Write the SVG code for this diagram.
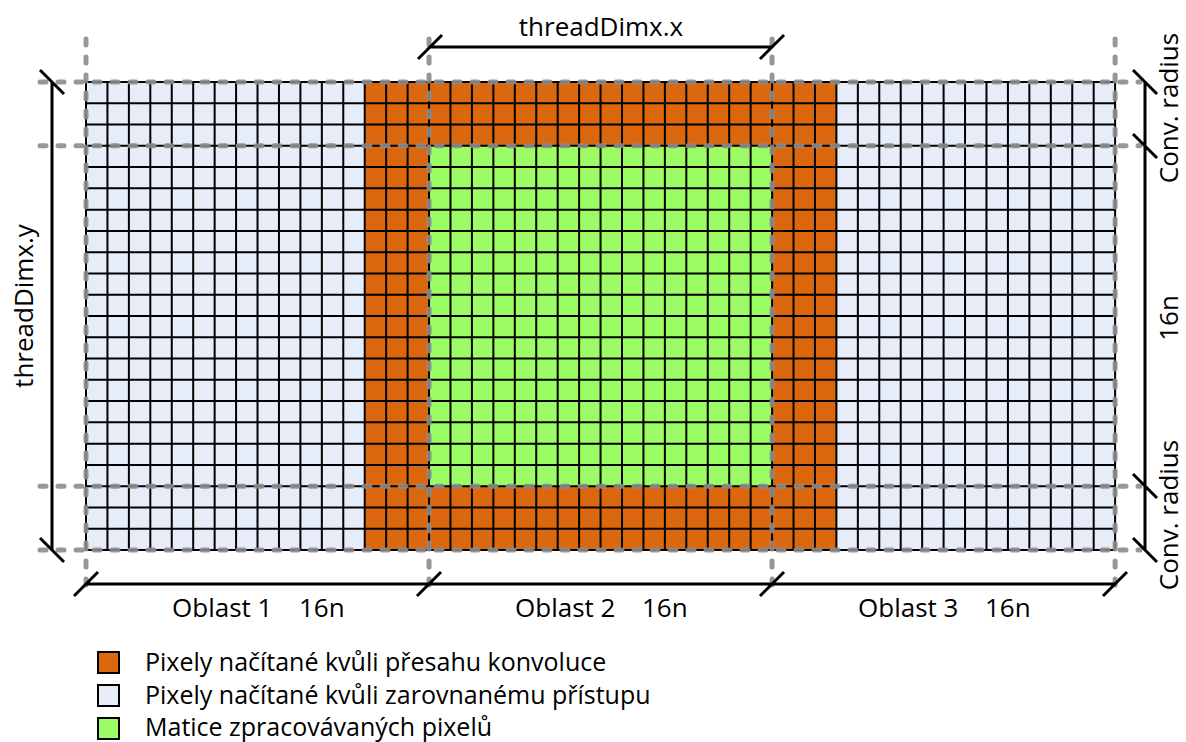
<svg xmlns="http://www.w3.org/2000/svg" width="1186" height="742" viewBox="0 0 1186 742">
  <style>
    .lbl { font-family: "Open Sans", "Liberation Sans", sans-serif; font-size: 26px; fill: #000; }
    .leg { font-family: "Open Sans", "Liberation Sans", sans-serif; font-size: 25px; fill: #000; }
    .grid { fill: none; stroke: #000; stroke-width: 2; }
    .guide { fill: none; stroke: #8c8c8c; stroke-width: 5; stroke-dasharray: 6 12; stroke-linecap: round; opacity: 0.9; }
    .dim { fill: none; stroke: #000; stroke-width: 3; }
    .sw { stroke: #000; stroke-width: 2; }
  </style>
  <rect width="1186" height="742" fill="#fff"/>

  <!-- pixel block: aligned-load area, convolution halo, processed tile -->
  <g id="pixel-grid">
    <rect x="86" y="82" width="1029.12" height="468" fill="#e7edf8"/>
    <rect x="364.72" y="82" width="471.68" height="468" fill="#db680e"/>
    <rect x="429.04" y="145.82" width="343.04" height="340.36" fill="#9bfc65"/>
    <path class="grid" d="M86 82V550M107.44 82V550M128.88 82V550M150.32 82V550M171.76 82V550M193.2 82V550M214.64 82V550M236.08 82V550M257.52 82V550M278.96 82V550M300.4 82V550M321.84 82V550M343.28 82V550M364.72 82V550M386.16 82V550M407.6 82V550M429.04 82V550M450.48 82V550M471.92 82V550M493.36 82V550M514.8 82V550M536.24 82V550M557.68 82V550M579.12 82V550M600.56 82V550M622 82V550M643.44 82V550M664.88 82V550M686.32 82V550M707.76 82V550M729.2 82V550M750.64 82V550M772.08 82V550M793.52 82V550M814.96 82V550M836.4 82V550M857.84 82V550M879.28 82V550M900.72 82V550M922.16 82V550M943.6 82V550M965.04 82V550M986.48 82V550M1007.92 82V550M1029.36 82V550M1050.8 82V550M1072.24 82V550M1093.68 82V550M1115.12 82V550
      M86 82H1115.12M86 103.27H1115.12M86 124.55H1115.12M86 145.82H1115.12M86 167.09H1115.12M86 188.36H1115.12M86 209.64H1115.12M86 230.91H1115.12M86 252.18H1115.12M86 273.45H1115.12M86 294.73H1115.12M86 316H1115.12M86 337.27H1115.12M86 358.55H1115.12M86 379.82H1115.12M86 401.09H1115.12M86 422.36H1115.12M86 443.64H1115.12M86 464.91H1115.12M86 486.18H1115.12M86 507.45H1115.12M86 528.73H1115.12M86 550H1115.12"/>
  </g>

  <!-- dashed guide lines -->
  <g id="guides">
    <path class="guide" d="M40 82H1140M40 145.82H1140M40 486.18H1140M40 550H1140"/>
    <path class="guide" d="M86 39V596M429.04 39V596M772.08 39V596M1115.12 39V596"/>
  </g>

  <!-- dimension lines with slash ticks -->
  <g id="connectors">
    <path class="dim" d="M52 82V550M40 70L64 94M40 538L64 562"/>
    <path class="dim" d="M429 47H772M418 59L442 35M760 59L784 35"/>
    <path class="dim" d="M1145 82V550M1133 70L1157 94M1133 134L1157 158M1133 474L1157 498M1133 538L1157 562"/>
    <path class="dim" d="M86 584H1115M74 596L98 572M417 596L441 572M760 596L784 572M1103 596L1127 572"/>
  </g>

  <g id="label-threadDimx-x"><text class="lbl" x="601" y="36" text-anchor="middle">threadDimx.x</text></g>
  <g id="label-threadDimx-y"><text class="lbl" transform="translate(33,306) rotate(-90)" text-anchor="middle">threadDimx.y</text></g>
  <g id="label-conv-top"><text class="lbl" transform="translate(1178,108) rotate(-90)" text-anchor="middle">Conv. radius</text></g>
  <g id="label-16n-side"><text class="lbl" transform="translate(1178,318) rotate(-90)" text-anchor="middle">16n</text></g>
  <g id="label-conv-bottom"><text class="lbl" transform="translate(1178,515) rotate(-90)" text-anchor="middle">Conv. radius</text></g>

  <g id="label-oblast1"><text class="lbl" x="172" y="617">Oblast 1</text><text class="lbl" x="299" y="617">16n</text></g>
  <g id="label-oblast2"><text class="lbl" x="515" y="617">Oblast 2</text><text class="lbl" x="642" y="617">16n</text></g>
  <g id="label-oblast3"><text class="lbl" x="858" y="617">Oblast 3</text><text class="lbl" x="985" y="617">16n</text></g>

  <!-- legend -->
  <g id="legend-halo">
    <rect class="sw" x="98" y="652" width="21" height="21" fill="#db680e"/>
    <text class="leg" x="145" y="671">Pixely načítané kvůli přesahu konvoluce</text>
  </g>
  <g id="legend-aligned">
    <rect class="sw" x="98" y="685" width="21" height="21" fill="#e7edf8"/>
    <text class="leg" x="145" y="704">Pixely načítané kvůli zarovnanému přístupu</text>
  </g>
  <g id="legend-processed">
    <rect class="sw" x="98" y="718" width="21" height="21" fill="#9bfc65"/>
    <text class="leg" x="145" y="736">Matice zpracovávaných pixelů</text>
  </g>
</svg>
